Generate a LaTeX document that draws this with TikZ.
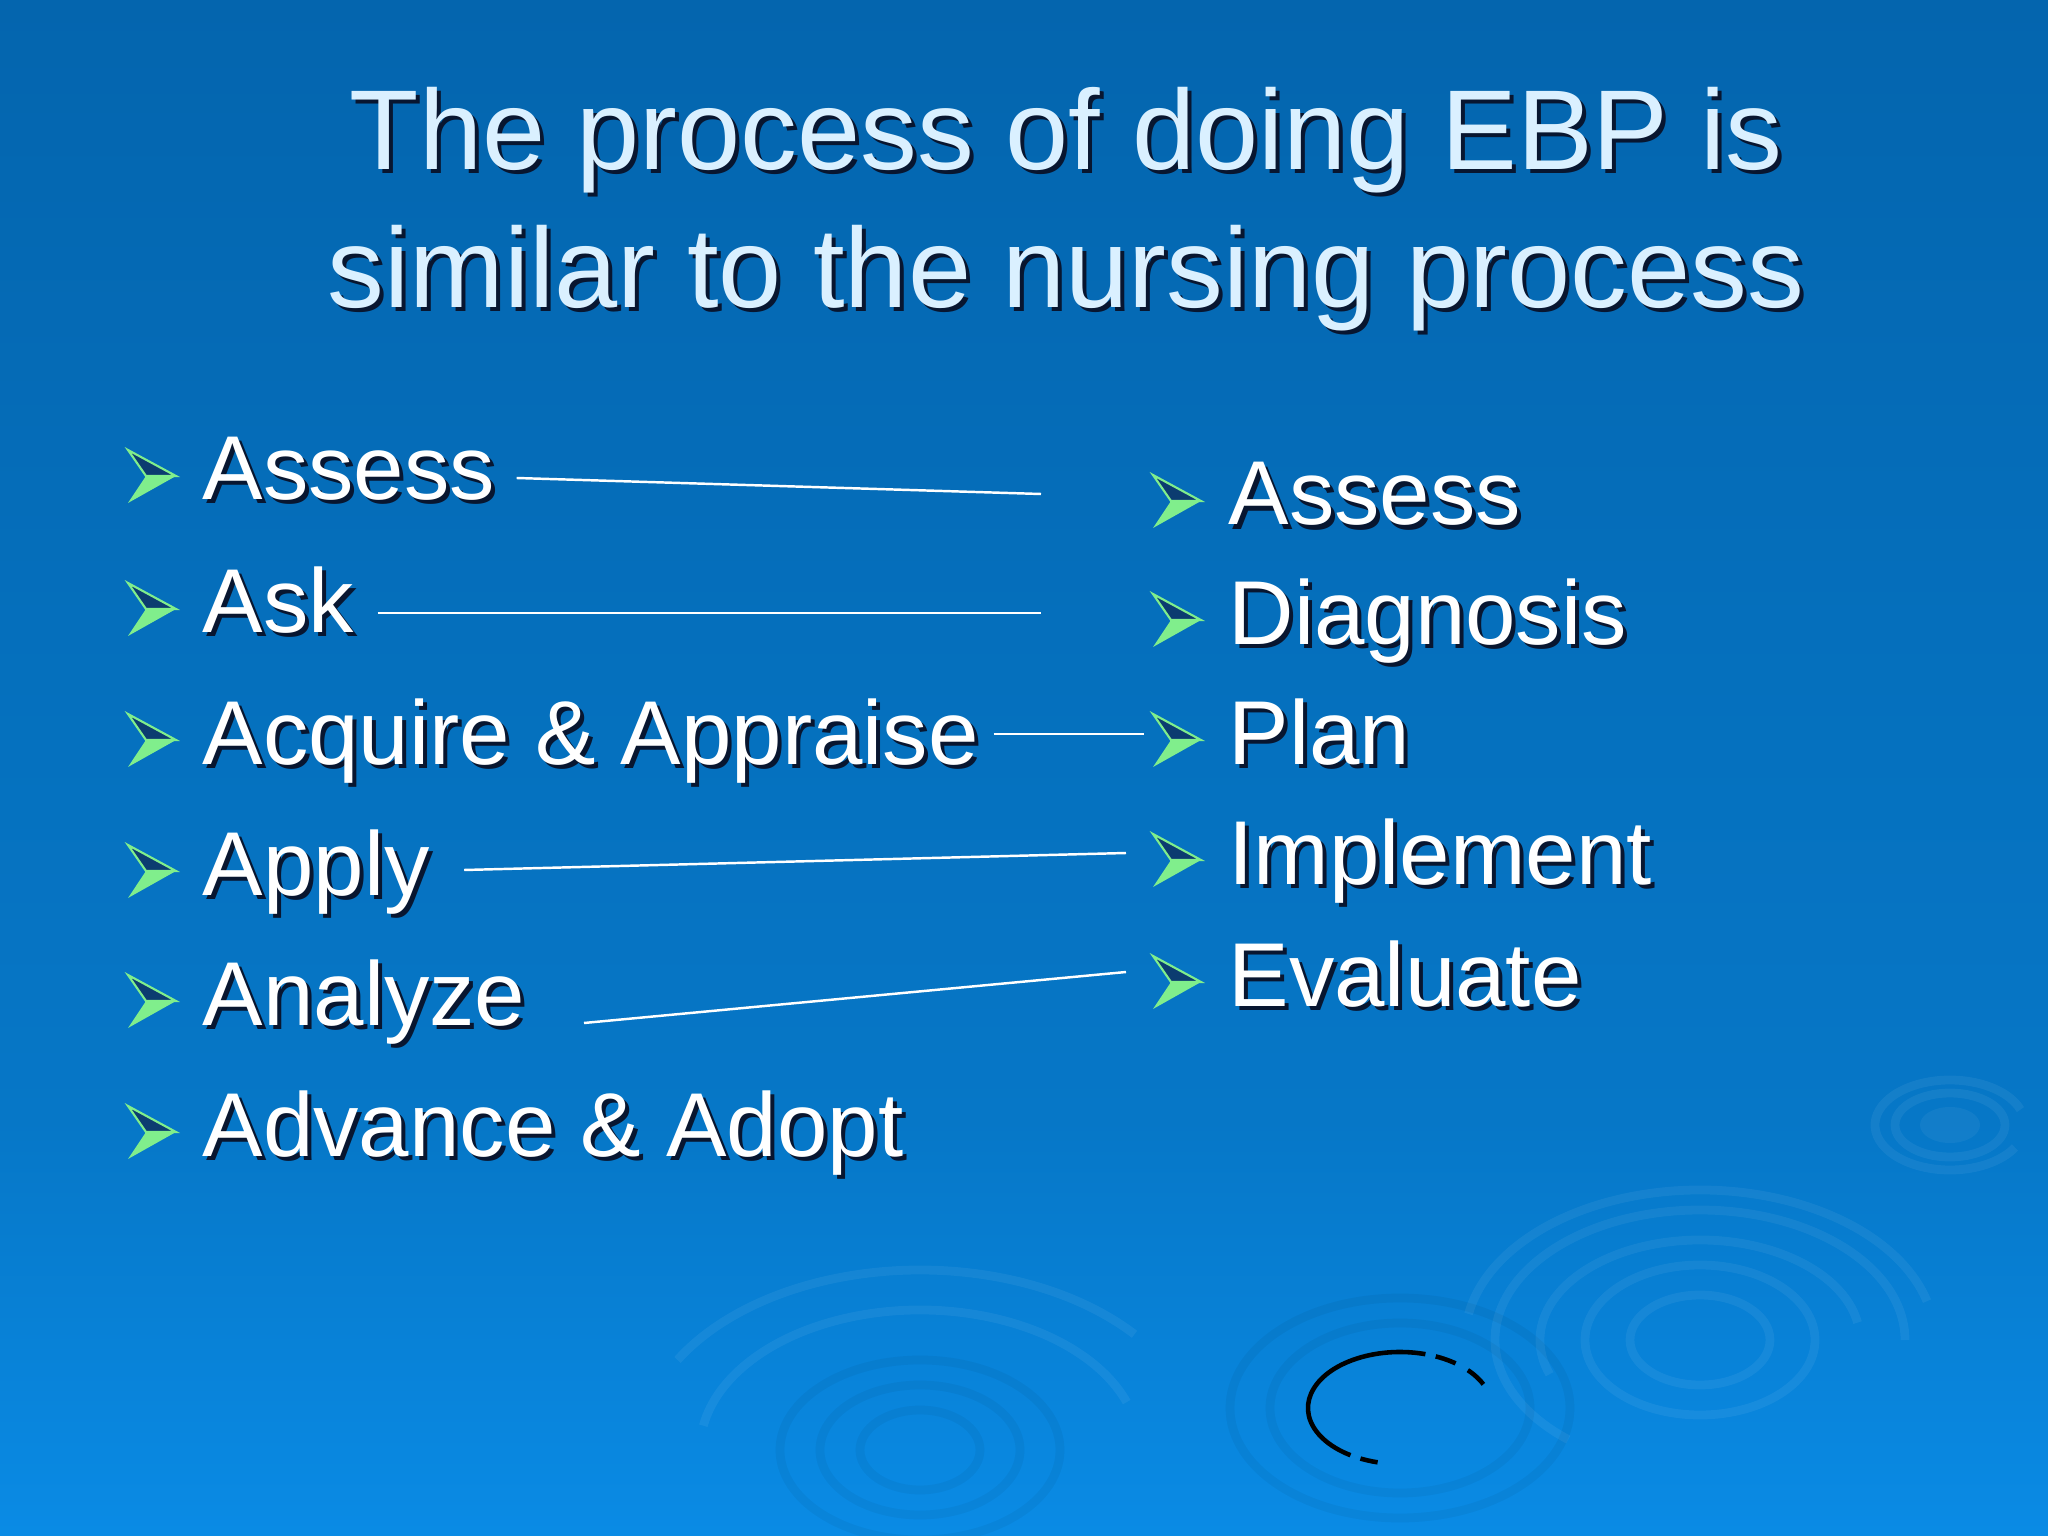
\documentclass[tikz,border=0pt]{standalone}
\usepackage{fontspec}
\setmainfont{Liberation Sans}
\usepackage{tikz}

\definecolor{bgtop}{RGB}{4,101,174}
\definecolor{bgmid}{RGB}{6,119,199}
\definecolor{bgbot}{RGB}{10,139,229}
\definecolor{titleblue}{RGB}{218,240,255}
\definecolor{bulgreen}{RGB}{128,238,140}
\definecolor{buldark}{RGB}{12,60,112}
\definecolor{txtshadow}{RGB}{8,22,48}

% text with its drop shadow
\newcommand\shd[1]{\makebox[0pt][l]{\kern0.04cm\raisebox{-0.04cm}{\color{txtshadow}#1}}#1}

\tikzset{
  title/.style={anchor=base, inner sep=0pt, text=titleblue, font=\fontsize{32.3}{39}\selectfont},
  item/.style={anchor=base west, inner sep=0pt, text=white, font=\fontsize{25.8}{31}\selectfont},
  link/.style={draw=white, line width=0.7pt},
  ripple/.style={white, opacity=0.06, line width=2.5pt},
  dripple/.style={black, opacity=0.045, line width=2.5pt},
  bullet/.pic={
    \fill[bulgreen] (0.18,0.24) -- (0.48,0.24) -- (0,-0.03) -- cycle;
    \filldraw[fill=buldark, draw=bulgreen, line width=0.6pt] (0,0.50) -- (0.48,0.24) -- (0.18,0.24) -- cycle;
  }
}

\begin{document}
\begin{tikzpicture}
\useasboundingbox (0,0) rectangle (20.48,-15.36);
% background
\shade[top color=bgtop, bottom color=bgmid] (0,0) rectangle (20.48,-11.2);
\shade[top color=bgmid, bottom color=bgbot] (0,-11.2) rectangle (20.48,-15.36);

% ripples
\fill[white, opacity=0.05] (19.50,-11.25) ellipse [x radius=0.30, y radius=0.18];
\draw[ripple] (19.50,-11.25) ellipse [x radius=0.55, y radius=0.32];
\draw[ripple] (19.50,-11.25) ++(20:0.75 and 0.45) arc [start angle=20, end angle=330, x radius=0.75, y radius=0.45];
\draw[ripple] (17.00,-13.40) ellipse [x radius=0.70, y radius=0.45];
\draw[ripple] (17.00,-13.40) ellipse [x radius=1.15, y radius=0.75];
\draw[ripple] (17.00,-13.40) ++(10:1.60 and 1.00) arc [start angle=10, end angle=200, x radius=1.60, y radius=1.00];
\draw[ripple] (17.00,-13.40) ++(0:2.05 and 1.30) arc [start angle=0, end angle=230, x radius=2.05, y radius=1.30];
\draw[ripple] (17.00,-13.40) ++(15:2.35 and 1.50) arc [start angle=15, end angle=170, x radius=2.35, y radius=1.50];
\draw[dripple] (9.20,-14.50) ellipse [x radius=0.60, y radius=0.40];
\draw[dripple] (9.20,-14.50) ellipse [x radius=1.00, y radius=0.65];
\draw[dripple] (9.20,-14.50) ellipse [x radius=1.40, y radius=0.90];
\draw[ripple] (9.20,-14.50) ++(20:2.20 and 1.40) arc [start angle=20, end angle=170, x radius=2.20, y radius=1.40];
\draw[ripple] (9.20,-14.50) ++(40:2.80 and 1.80) arc [start angle=40, end angle=150, x radius=2.80, y radius=1.80];
\draw[dripple] (14.00,-14.08) ellipse [x radius=1.30, y radius=0.85];
\draw[dripple] (14.00,-14.08) ellipse [x radius=1.70, y radius=1.10];

% dashed ring
\draw[black, line width=1.3pt, dash pattern=on 6pt off 4pt on 6pt off 3pt on 60pt off 3pt on 5pt off 6pt on 3pt off 8pt]
  (14.00,-14.08) ++(25:0.92 and 0.56) arc [start angle=25, end angle=260, x radius=0.92, y radius=0.56];

% title
\node[title] (t1) at (10.66,-1.70) {\shd{The process of doing EBP is}};
\node[title] (t2) at (10.66,-3.08) {\shd{similar to the nursing process}};

% EBP steps
\node[item] (l1) at (2.02,-5.00) {\shd{Assess}};
\node[item] (l2) at (2.02,-6.33) {\shd{Ask}};
\node[item] (l3) at (2.02,-7.64) {\shd{Acquire \& Appraise}};
\node[item] (l4) at (2.02,-8.95) {\shd{Apply}};
\node[item] (l5) at (2.02,-10.25) {\shd{Analyze}};
\node[item] (l6) at (2.02,-11.56) {\shd{Advance \& Adopt}};

% nursing process
\node[item] (r1) at (12.28,-5.25) {\shd{Assess}};
\node[item] (r2) at (12.28,-6.44) {\shd{Diagnosis}};
\node[item] (r3) at (12.28,-7.64) {\shd{Plan}};
\node[item] (r4) at (12.28,-8.84) {\shd{Implement}};
\node[item] (r5) at (12.28,-10.06) {\shd{Evaluate}};

\pic at ([xshift=-0.74cm]l1.base west) {bullet};
\pic at ([xshift=-0.74cm]l2.base west) {bullet};
\pic at ([xshift=-0.74cm]l3.base west) {bullet};
\pic at ([xshift=-0.74cm]l4.base west) {bullet};
\pic at ([xshift=-0.74cm]l5.base west) {bullet};
\pic at ([xshift=-0.74cm]l6.base west) {bullet};
\pic at ([xshift=-0.75cm]r1.base west) {bullet};
\pic at ([xshift=-0.75cm]r2.base west) {bullet};
\pic at ([xshift=-0.75cm]r3.base west) {bullet};
\pic at ([xshift=-0.75cm]r4.base west) {bullet};
\pic at ([xshift=-0.75cm]r5.base west) {bullet};

% links
\draw[link] ([xshift=0.21cm,yshift=0.22cm]l1.base east) -- ([xshift=-1.87cm,yshift=0.31cm]r1.base west);
\draw[link] ([xshift=0.23cm,yshift=0.20cm]l2.base east) -- ([xshift=-1.87cm,yshift=0.31cm]r2.base west);
\draw[link] ([xshift=0.14cm,yshift=0.30cm]l3.base east) -- ([xshift=-0.84cm,yshift=0.30cm]r3.base west);
\draw[link] ([xshift=0.34cm,yshift=0.25cm]l4.base east) -- ([xshift=-1.02cm,yshift=0.31cm]r4.base west);
\draw[link] ([xshift=0.58cm,yshift=0.02cm]l5.base east) -- ([xshift=-1.02cm,yshift=0.34cm]r5.base west);

\end{tikzpicture}
\end{document}
